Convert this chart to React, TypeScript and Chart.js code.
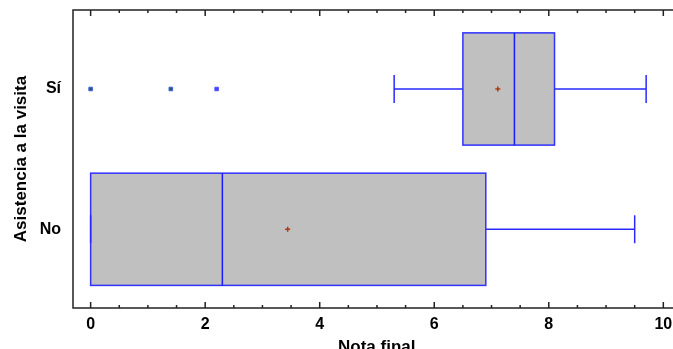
import React, { useEffect, useRef } from "react";
import { Chart, registerables } from "chart.js";

Chart.register(...registerables);

const categories = ["No", "Sí"];
const whiskerLow = [0, 5.3];
const q1 = [0, 6.5];
const medians = [2.3, 7.4];
const q3 = [6.9, 8.1];
const whiskerHigh = [9.5, 9.7];
const means = [3.44, 7.11];
const outlierValues = [0, 1.4, 2.2];
const outlierGroups = [1, 1, 1];
const outlierFill = ["#1e6464", "#1e6464", "#4646ff"];
const outlierBorder = ["#3c5adc", "#3c5adc", "#5050ff"];

const FONT = '"Liberation Sans", Arial, sans-serif';
const BOX_HALF = 0.4;
const CAP_HALF = 0.1;

const boxPlugin = {
  id: "boxplot",
  beforeDatasetsDraw(chart: any) {
    const { ctx } = chart;
    const xs = chart.scales.x;
    const ys = chart.scales.y;
    ctx.save();
    categories.forEach((_, i) => {
      const xl = xs.getPixelForValue(q1[i]);
      const xr = xs.getPixelForValue(q3[i]);
      const yt = ys.getPixelForValue(i + BOX_HALF);
      const yb = ys.getPixelForValue(i - BOX_HALF);
      const yc = ys.getPixelForValue(i);
      ctx.fillStyle = "#c0c0c0";
      ctx.fillRect(xl, yt, xr - xl, yb - yt);
      ctx.strokeStyle = "#3030ff";
      ctx.lineWidth = 1.5;
      ctx.strokeRect(xl, yt, xr - xl, yb - yt);
      const xm = xs.getPixelForValue(medians[i]);
      ctx.strokeStyle = "#1a1aff";
      ctx.beginPath();
      ctx.moveTo(xm, yt);
      ctx.lineTo(xm, yb);
      ctx.stroke();
      const xlo = xs.getPixelForValue(whiskerLow[i]);
      const xhi = xs.getPixelForValue(whiskerHigh[i]);
      const ct = ys.getPixelForValue(i + CAP_HALF);
      const cb = ys.getPixelForValue(i - CAP_HALF);
      ctx.strokeStyle = "#2a2aff";
      ctx.lineWidth = 1.5;
      ctx.beginPath();
      ctx.moveTo(xlo, yc);
      ctx.lineTo(xl, yc);
      ctx.moveTo(xr, yc);
      ctx.lineTo(xhi, yc);
      ctx.moveTo(xlo, ct);
      ctx.lineTo(xlo, cb);
      ctx.moveTo(xhi, ct);
      ctx.lineTo(xhi, cb);
      ctx.stroke();
    });
    ctx.restore();
  },
  afterDraw(chart: any) {
    const { ctx, chartArea } = chart;
    const xs = chart.scales.x;
    ctx.save();
    ctx.strokeStyle = "#222";
    ctx.lineWidth = 1.5;
    ctx.strokeRect(chartArea.left, chartArea.top, chartArea.right - chartArea.left, chartArea.bottom - chartArea.top);
    ctx.beginPath();
    xs.ticks.forEach((t: any) => {
      const v = t.value;
      if (Math.abs(v * 2 - Math.round(v * 2)) > 1e-6) return;
      const px = xs.getPixelForValue(v);
      const major = Math.abs(v / 2 - Math.round(v / 2)) < 1e-6;
      const len = major ? 6 : 3;
      ctx.moveTo(px, chartArea.bottom);
      ctx.lineTo(px, chartArea.bottom - len);
      ctx.moveTo(px, chartArea.top);
      ctx.lineTo(px, chartArea.top + len);
    });
    ctx.stroke();
    ctx.restore();
  },
};

export default function App() {
  const ref = useRef<HTMLCanvasElement | null>(null);
  useEffect(() => {
    if (!ref.current) return;
    const chart = new Chart(ref.current, {
      type: "scatter",
      data: {
        datasets: [
          {
            label: "Media",
            data: means.map((m, i) => ({ x: m, y: i })),
            pointStyle: "cross",
            pointRadius: 2.5,
            pointBorderWidth: 1.5,
            borderColor: "#b03a10",
            backgroundColor: "#b03a10",
          },
          {
            label: "Atípicos",
            data: outlierValues.map((v, i) => ({ x: v, y: outlierGroups[i] })),
            pointStyle: "rect",
            pointRadius: 2.5,
            pointBorderWidth: 1,
            borderColor: outlierBorder,
            backgroundColor: outlierFill,
          },
        ],
      },
      options: {
        responsive: false,
        animation: false,
        events: [],
        layout: { padding: { left: 0, right: 3, top: 10, bottom: 0 } },
        plugins: { legend: { display: false }, tooltip: { enabled: false } },
        scales: {
          x: {
            type: "linear",
            position: "bottom",
            min: -0.308,
            max: 10.3,
            grid: { display: false, drawTicks: false },
            border: { display: false },
            afterFit: (s: any) => {
              s.height = 52;
              s.paddingLeft = 0;
              s.paddingRight = 0;
            },
            ticks: {
              stepSize: 0.5,
              includeBounds: false,
              autoSkip: false,
              maxRotation: 0,
              minRotation: 0,
              padding: 7,
              color: "#000",
              font: { family: FONT, size: 16, weight: "bold" },
              callback: (v: any) => (Math.abs(v / 2 - Math.round(v / 2)) < 1e-6 ? String(v) : ""),
            },
            title: {
              display: true,
              text: "Nota final",
              color: "#000",
              padding: { top: 0, bottom: 2.3 },
              font: { family: FONT, size: 17, weight: "bold" },
            },
          },
          y: {
            type: "linear",
            min: -0.561,
            max: 1.563,
            grid: { display: false, drawTicks: false },
            border: { display: false },
            afterBuildTicks: (s: any) => {
              s.ticks = categories.map((_, i) => ({ value: i }));
            },
            afterFit: (s: any) => {
              s.width = 73;
              s.paddingTop = 0;
              s.paddingBottom = 0;
            },
            ticks: {
              padding: 12,
              color: "#000",
              font: { family: FONT, size: 16, weight: "bold" },
              callback: (v: any) => categories[Math.round(v)] ?? "",
            },
            title: {
              display: true,
              text: "Asistencia a la visita",
              color: "#000",
              padding: { top: 11.5, bottom: 0 },
              font: { family: FONT, size: 17, weight: "bold" },
            },
          },
        },
      },
      plugins: [boxPlugin],
    } as any);
    return () => chart.destroy();
  }, []);
  return (
    <div style={{ position: "fixed", left: 0, top: 0, width: 686, height: 360, overflow: "hidden" }}>
      <canvas ref={ref} width={686} height={360} style={{ display: "block" }} />
    </div>
  );
}
